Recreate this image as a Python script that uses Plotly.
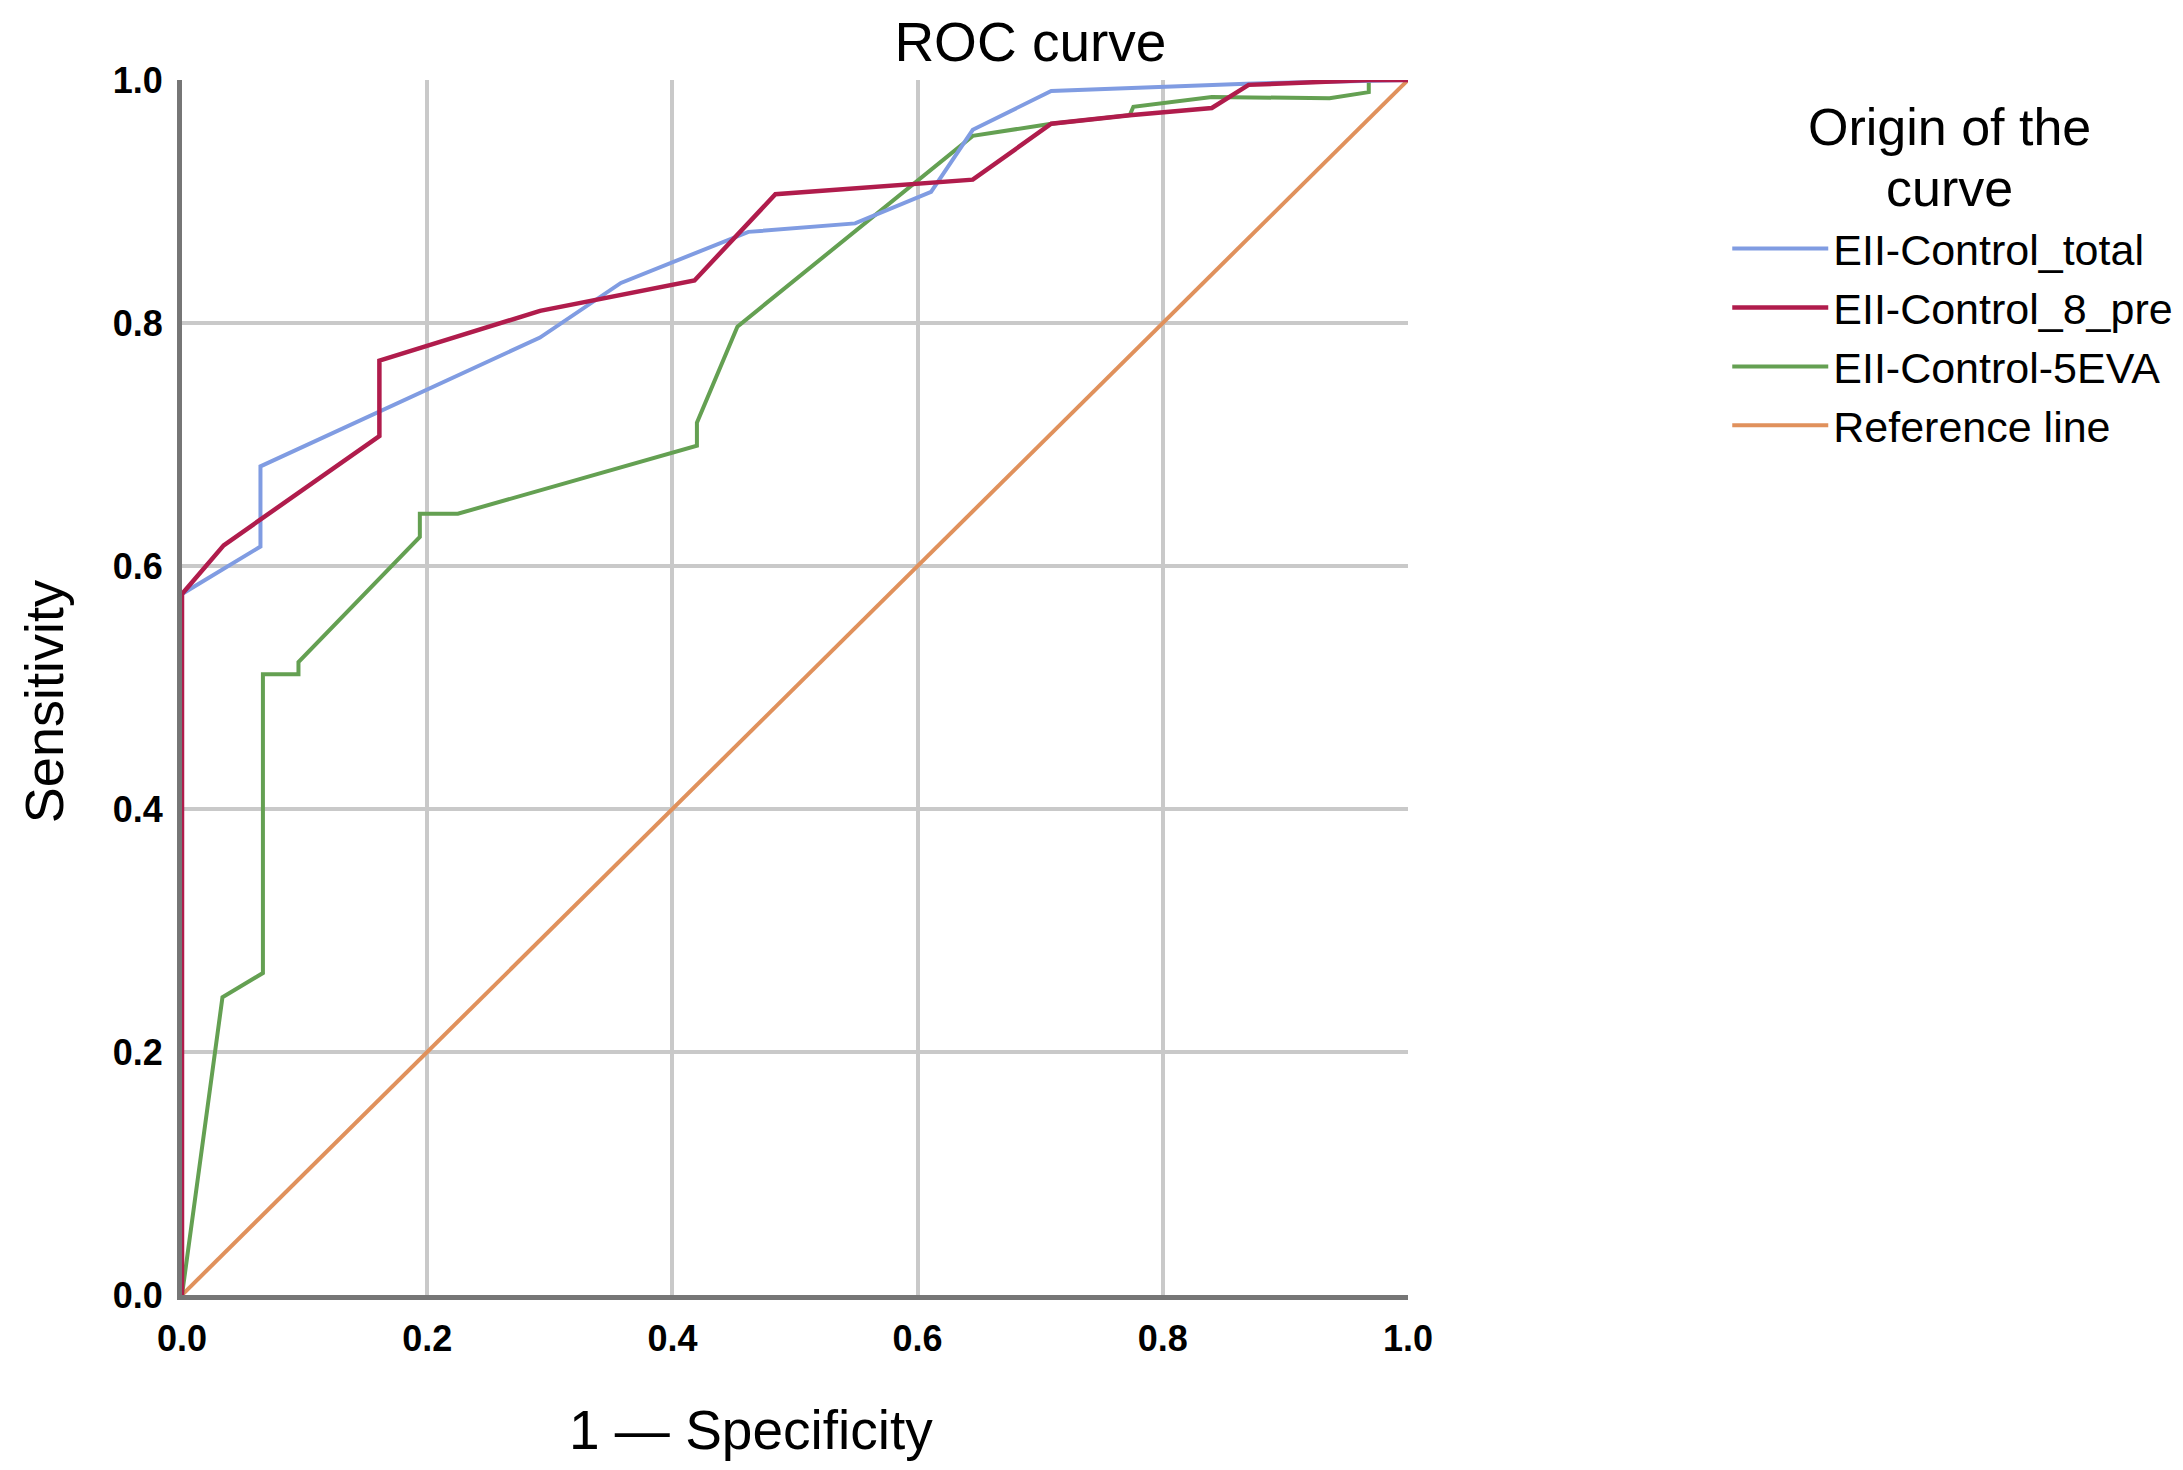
import plotly.graph_objects as go

# ROC curve points (1 - specificity, sensitivity)
total_fpr = [0, 0, 0.064, 0.064, 0.292, 0.358, 0.462, 0.549, 0.611, 0.645, 0.709, 0.868, 1.0]
total_tpr = [0, 0.577, 0.616, 0.682, 0.788, 0.833, 0.875, 0.882, 0.908, 0.959, 0.991, 0.997, 1.0]

pre8_fpr = [0, 0, 0.034, 0.161, 0.161, 0.292, 0.418, 0.484, 0.645, 0.709, 0.773, 0.840, 0.870, 0.968, 1.0]
pre8_tpr = [0, 0.577, 0.617, 0.707, 0.769, 0.810, 0.835, 0.906, 0.918, 0.964, 0.971, 0.977, 0.996, 1.0, 1.0]

eva5_fpr = [0, 0.033, 0.066, 0.066, 0.095, 0.095, 0.194, 0.194, 0.225, 0.420, 0.420, 0.453,
            0.645, 0.709, 0.773, 0.776, 0.840, 0.936, 0.968, 0.968, 1.0]
eva5_tpr = [0, 0.245, 0.265, 0.511, 0.511, 0.521, 0.624, 0.643, 0.643, 0.699, 0.718, 0.797,
            0.954, 0.964, 0.971, 0.978, 0.986, 0.985, 0.990, 1.0, 1.0]

ref_x = [0, 1]
ref_y = [0, 1]

names = ["EII-Control_total", "EII-Control_8_pre", "EII-Control-5EVA", "Reference line"]
colors = ["#809CE2", "#B01C4C", "#64A052", "#E0915C"]
widths = [4, 4.5, 4, 4]
xs = [total_fpr, pre8_fpr, eva5_fpr, ref_x]
ys = [total_tpr, pre8_tpr, eva5_tpr, ref_y]

fig = go.Figure()
# reference line drawn first so the curves sit on top; legend order kept with legendrank
for i in [3, 2, 0, 1]:
    fig.add_trace(go.Scatter(
        x=xs[i], y=ys[i], mode="lines", name=names[i],
        line=dict(color=colors[i], width=widths[i]),
        legendrank=i + 1,
    ))

font = "Liberation Sans, Arial, sans-serif"
axis_style = dict(
    range=[0, 1], dtick=0.2, tickformat=".1f",
    showgrid=True, gridcolor="#C9C9C9", gridwidth=4,
    showline=True, linecolor="#767676", linewidth=5,
    zeroline=False, ticks="",
    tickfont=dict(family=font, size=36, color="black", weight="bold"),
)
fig.update_xaxes(**axis_style, ticklabelstandoff=8)
fig.update_yaxes(**axis_style, ticklabelstandoff=7)

# axis titles and the legend heading as positioned text
fig.add_annotation(text="1 — Specificity", xref="paper", yref="paper", x=0.464, y=-0.1114,
                   xanchor="center", yanchor="middle", showarrow=False,
                   font=dict(family=font, size=55, color="black"))
fig.add_annotation(text="Sensitivity", xref="paper", yref="paper", x=-0.1125, y=0.488,
                   textangle=-90, xanchor="center", yanchor="middle", showarrow=False,
                   font=dict(family=font, size=54, color="black"))
fig.add_annotation(text="Origin of the", xref="paper", yref="paper", x=1.4416, y=0.9613,
                   xanchor="center", yanchor="middle", showarrow=False,
                   font=dict(family=font, size=52, color="black"))
fig.add_annotation(text="curve", xref="paper", yref="paper", x=1.4416, y=0.9111,
                   xanchor="center", yanchor="middle", showarrow=False,
                   font=dict(family=font, size=52, color="black"))

fig.update_layout(
    width=2183, height=1470,
    margin=dict(l=174, r=783, t=72, b=183),
    paper_bgcolor="white", plot_bgcolor="white",
    font=dict(family=font, color="black"),
    title=dict(text="ROC curve", font=dict(family=font, size=55, color="black"),
               x=0.692, xref="paper", xanchor="center",
               y=1 - 34 / 1470, yref="container", yanchor="middle"),
    legend=dict(
        x=1.2604, xanchor="left", y=0.8896, yanchor="top",
        font=dict(family=font, size=43, color="black"),
        itemwidth=96,
        bgcolor="rgba(0,0,0,0)",
    ),
)

fig.write_html("out.html")
